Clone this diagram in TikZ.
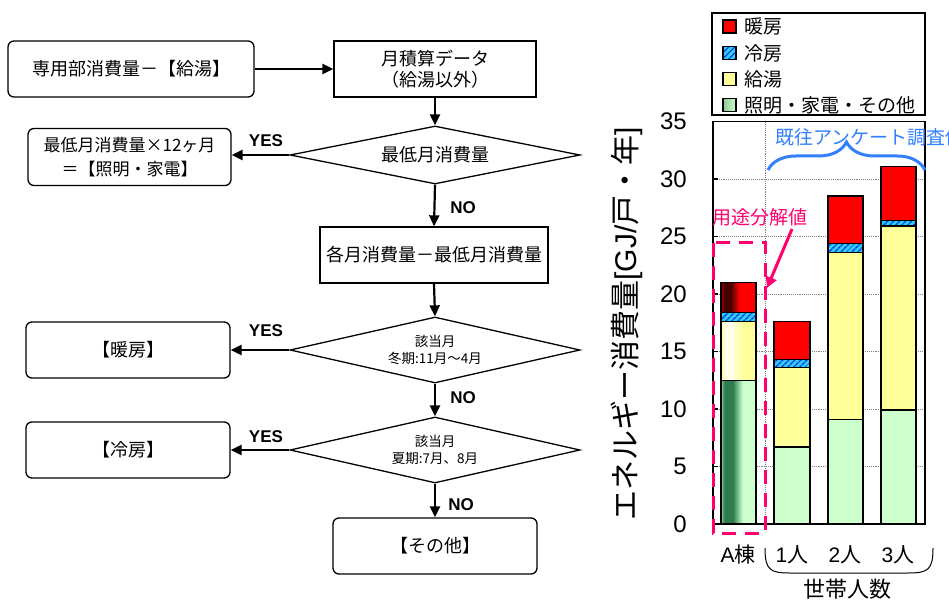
\documentclass[tikz,border=0pt]{standalone}
\usepackage{fontspec}
\setmainfont{Noto Sans CJK JP}
\newfontfamily\arial{Liberation Sans}
\usetikzlibrary{arrows.meta,shapes.geometric,patterns.meta,decorations.pathreplacing}
\newcommand\fs[2]{\fontsize{#1}{#2}\selectfont}
\definecolor{hred}{RGB}{255,0,0}
\definecolor{hcyan}{RGB}{51,204,255}
\definecolor{hblue}{RGB}{0,60,220}
\definecolor{hyel}{RGB}{255,255,153}
\definecolor{hgrn}{RGB}{204,255,204}
\definecolor{pinkc}{RGB}{255,0,110}
\definecolor{bluec}{RGB}{51,128,255}
\definecolor{dgrn}{RGB}{46,125,80}
\definecolor{dred}{RGB}{70,0,0}
\definecolor{pyel}{RGB}{255,255,235}
\definecolor{mgrn}{RGB}{140,200,150}
\definecolor{mred}{RGB}{170,0,0}
\pgfdeclarehorizontalshading{agreen}{100bp}{color(0bp)=(mgrn); color(25bp)=(mgrn); color(30bp)=(dgrn); color(42bp)=(dgrn); color(56bp)=(hgrn); color(100bp)=(hgrn)}
\pgfdeclarehorizontalshading{ared}{100bp}{color(0bp)=(mred); color(25bp)=(mred); color(30bp)=(dred); color(39bp)=(dred); color(51bp)=(hred); color(100bp)=(hred)}
\pgfdeclarehorizontalshading{ayel}{100bp}{color(0bp)=(hyel); color(25bp)=(hyel); color(31bp)=(pyel); color(40bp)=(pyel); color(56bp)=(hyel); color(100bp)=(hyel)}
\tikzset{
  rbox/.style={draw, rounded corners=6pt, line width=1.3pt, minimum height=56pt, inner sep=0pt, align=center, font=\fs{18}{24}},
  sqbox/.style={draw, line width=1.3pt, minimum height=56pt, inner sep=0pt, align=center, font=\fs{18}{21}},
  dia/.style={draw, shape=diamond, aspect=5, line width=1.3pt, minimum width=290pt, inner sep=0pt, align=center},
  conn/.style={line width=2.2pt, -{Triangle[length=11pt,width=10pt]}},
  yn/.style={font=\arial\bfseries\fs{17}{18}, inner sep=0pt},
  barline/.style={line width=1.5pt},
  hatch/.style={barline, preaction={fill=hcyan}, pattern={Lines[angle=45,distance=4pt,line width=1.4pt]}, pattern color=hblue},
  gridl/.style={gray, densely dotted, line width=0.9pt},
  tick/.style={font=\arial\fs{24}{26}, anchor=east, inner sep=0pt},
  legt/.style={font=\fs{19}{20}, anchor=west, inner sep=0pt},
  xlab/.style={font=\fs{21}{22}, inner sep=0pt},
}
\begin{document}
\begin{tikzpicture}[x=1pt, y=-1pt]
\useasboundingbox (0,0) rectangle (949,601);
\fill[white] (0,0) rectangle (949,601);
% ---------------- flowchart ----------------
\node[rbox, minimum width=246pt] (b1) at (131,69) {専用部消費量－【給湯】};
\node[sqbox, minimum width=202pt] (b2) at (435,69) {月積算データ\\（給湯以外）};
\node[dia, minimum height=58pt, font=\fs{18}{20}] (d1) at (435,155) {最低月消費量};
\node[rbox, minimum width=203pt, minimum height=57pt, font=\fs{17}{24}] (b3) at (129.5,157) {最低月消費量×12ヶ月\\＝【照明・家電】};
\node[sqbox, minimum width=228pt] (b4) at (434,255) {各月消費量－最低月消費量};
\node[dia, minimum height=66pt, font=\fs{13.5}{17}] (d2) at (435,350) {該当月\\冬期:11月～4月};
\node[rbox, minimum width=204pt] (b5) at (128,350) {【暖房】};
\node[dia, minimum height=66pt, font=\fs{13.5}{17}] (d3) at (435,450) {該当月\\夏期:7月、8月};
\node[rbox, minimum width=204pt] (b6) at (128,450) {【冷房】};
\node[rbox, minimum width=204pt] (b7) at (435,546) {【その他】};

\draw[conn] (b1.east) -- (b1.east -| b2.west);
\draw[conn] (b2.south) -- (d1.north);
\draw[conn] (d1.west) -- (d1.west -| b3.east);
\draw[conn] (d1.south) -- (b4.north);
\draw[conn] (b4.south) -- (d2.north);
\draw[conn] (d2.west) -- (d2.west -| b5.east);
\draw[conn] (d2.south) -- (d3.north);
\draw[conn] (d3.west) -- (d3.west -| b6.east);
\draw[conn] (d3.south) -- (b7.north);

\node[yn] (y1) at (266,141) {YES};
\node[yn] (y2) at (266,331) {YES};
\node[yn] (y3) at (266,437) {YES};
\node[yn] (n1) at (463,208) {NO};
\node[yn] (n2) at (463,398) {NO};
\node[yn] (n3) at (461,505) {NO};

% ---------------- chart ----------------
\begin{scope}[shift={(0,524)}, y=11.5pt]
  \foreach \v in {5,10,...,30} \draw[gridl] (713,\v) -- (925,\v);
  \draw[gridl] (765,0) -- (765,35);
  % A
  \draw[barline, shading=agreen] (721,0) rectangle (756,12.5);
  \draw[barline, shading=ayel] (721,12.5) rectangle (756,17.6);
  \draw[hatch] (721,17.6) rectangle (756,18.4);
  \draw[barline, shading=ared] (721,18.4) rectangle (756,21.0);
  % 1
  \draw[barline, fill=hgrn] (774,0) rectangle (810,6.7);
  \draw[barline, fill=hyel] (774,6.7) rectangle (810,13.6);
  \draw[hatch] (774,13.6) rectangle (810,14.3);
  \draw[barline, fill=hred] (774,14.3) rectangle (810,17.6);
  % 2
  \draw[barline, fill=hgrn] (828,0) rectangle (863,9.1);
  \draw[barline, fill=hyel] (828,9.1) rectangle (863,23.6);
  \draw[hatch] (828,23.6) rectangle (863,24.4);
  \draw[barline, fill=hred] (828,24.4) rectangle (863,28.5);
  % 3
  \draw[barline, fill=hgrn] (881,0) rectangle (916,9.9);
  \draw[barline, fill=hyel] (881,9.9) rectangle (916,25.9);
  \draw[hatch] (881,25.9) rectangle (916,26.4);
  \draw[barline, fill=hred] (881,26.4) rectangle (916,31.1);
  % frame
  \draw[line width=1.6pt] (713,0) rectangle (925,35);
  \foreach \v in {0,5,...,35} {
    \draw[line width=1.2pt] (713,\v) -- ++(5,0);
    \node[tick] (t\v) at (687,\v) {\v};
  }
\end{scope}

% y axis label
\node[rotate=90, inner sep=0pt, font=\fs{30}{31}] (ylab) at (627,324) {エネルギー消費量{\arial[GJ/}戸・年{\arial]}};

% legend
\draw[line width=1.5pt] (712,13) rectangle (925,115);
\draw[line width=1.2pt, fill=hred] (723,20) rectangle (736,33);
\draw[line width=1.2pt, preaction={fill=hcyan}, pattern={Lines[angle=45,distance=4pt,line width=1.4pt]}, pattern color=hblue] (723,46.5) rectangle (736,59.5);
\draw[line width=1.2pt, fill=hyel] (723,72.5) rectangle (736,85.5);
\draw[line width=1.2pt, left color=mgrn, right color=hgrn] (723,98.5) rectangle (736,111.5);
\node[legt] (l1) at (744,26.5) {暖房};
\node[legt] (l2) at (744,53) {冷房};
\node[legt] (l3) at (744,79) {給湯};
\node[legt] (l4) at (744,105) {照明・家電・その他};

% annotations
\draw[pinkc, line width=3pt, dash pattern=on 14pt off 9pt] (713,243) rectangle (765,533);
\node[font=\fs{19}{20}, text=pinkc, inner sep=0pt] (pl) at (760,217) {用途分解値};
\coordinate (pa1) at (792,229);
\coordinate (pa2) at (767,288);
\draw[pinkc, line width=3pt, -{Triangle[length=11pt,width=11pt]}] (pa1) -- (pa2);
\node[font=\fs{19}{20}, text=bluec, anchor=west, inner sep=0pt] (bl) at (775,137) {既往アンケート調査値};
\coordinate (brL) at (768,170);
\coordinate (brR) at (925,170);
\draw[bluec, line width=3pt, decorate, decoration={brace, amplitude=28pt}] (brL) -- (brR);

% x labels
\node[xlab] (xa) at (738,555) {{\arial A}棟};
\node[xlab] (x1) at (792,555) {{\arial 1}人};
\node[xlab] (x2) at (845,555) {{\arial 2}人};
\node[xlab] (x3) at (898,555) {{\arial 3}人};
\coordinate (bbL) at (765,548);
\coordinate (bbR) at (933,548);
\draw[line width=1pt] (bbL) .. controls (765,570) and (770,573) .. (790,573) -- (908,573) .. controls (928,573) and (933,570) .. (bbR);
\node[font=\fs{22}{24}, inner sep=0pt] (setai) at (847,589) {世帯人数};
\end{tikzpicture}
\end{document}
